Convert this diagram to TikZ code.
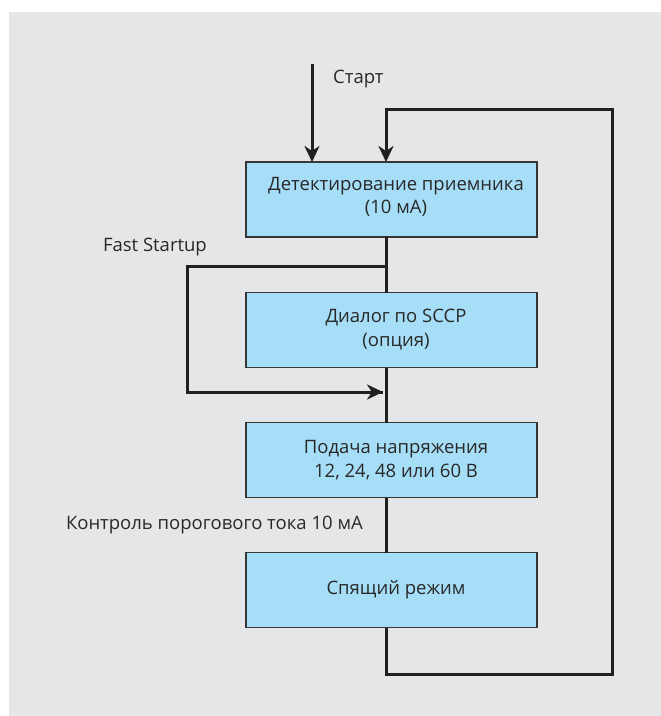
\documentclass[tikz,border=0pt]{standalone}
\usepackage{fontspec}
\setmainfont{Open Sans}
\usetikzlibrary{arrows.meta,calc}
\definecolor{bggray}{RGB}{229,230,232}
\definecolor{boxblue}{RGB}{166,221,247}
\definecolor{linec}{RGB}{35,31,32}
\definecolor{textc}{RGB}{40,40,40}
\tikzset{
  box/.style={draw=linec!90, line width=1.8pt, fill=boxblue, minimum width=291pt, minimum height=75pt, inner sep=0pt, outer sep=0pt},
  btext/.style={text=textc, align=center, font=\fontsize{18.5}{23.5}\selectfont, inner sep=0pt},
  lbl/.style={text=textc, font=\fontsize{18.5}{23.5}\selectfont, inner sep=0pt},
  conn/.style={draw=linec, line width=3pt},
  arr/.style={conn, -{Stealth[length=16pt,width=15pt,inset=5pt]}},
}
\begin{document}
\begin{tikzpicture}[x=1pt,y=-1pt]
\useasboundingbox (0,0) rectangle (661,716);
\fill[bggray] (9,12) rectangle (662,717);
% boxes
\node[box] (b1) at (391.5,199.5) {};
\node[box] (b2) at (391.5,330) {};
\node[box] (b3) at (391.5,460) {};
\node[box] (b4) at (391.5,590) {};
\node[btext] (t1) at (396,197) {Детектирование приемника\\(10 мА)};
\node[btext] (t2) at (396,329.5) {Диалог по SCCP\\(опция)};
\node[btext] (t3) at (396,460) {Подача напряжения\\12, 24, 48 или 60 В};
\node[btext] (t4) at (396,590) {Спящий режим};
% labels
\node[lbl, anchor=west] (lstart) at (333,79) {Старт};
\node[lbl, anchor=east] (lfast) at (207,247) {Fast Startup};
\node[lbl, anchor=east] (lctrl) at (363,525) {Контроль порогового тока 10 мА};
% coordinates
\coordinate (s0) at (312,64);
\coordinate (cx) at (386,0);
\coordinate (lt) at (612,109);
\coordinate (lb) at (612,674);
\coordinate (f0) at (386,266);
\coordinate (fl) at (187,266);
\coordinate (fb) at (187,392);
\coordinate (fe) at (383,392);
% connectors
\draw[arr] (s0) -- (s0 |- b1.north);
\draw[conn] (cx |- b1.south) -- (cx |- b2.north);
\draw[conn] (cx |- b2.south) -- (cx |- b3.north);
\draw[conn] (cx |- b3.south) -- (cx |- b4.north);
\draw[conn] (f0) -- (fl) -- (fb) -- (fe);
\draw[arr] (fb) -- (fe);
\draw[arr] (cx |- b4.south) -- (cx |- lb) -- (lb) -- (lt) -- (cx |- lt) -- (cx |- b1.north);
\end{tikzpicture}
\end{document}
